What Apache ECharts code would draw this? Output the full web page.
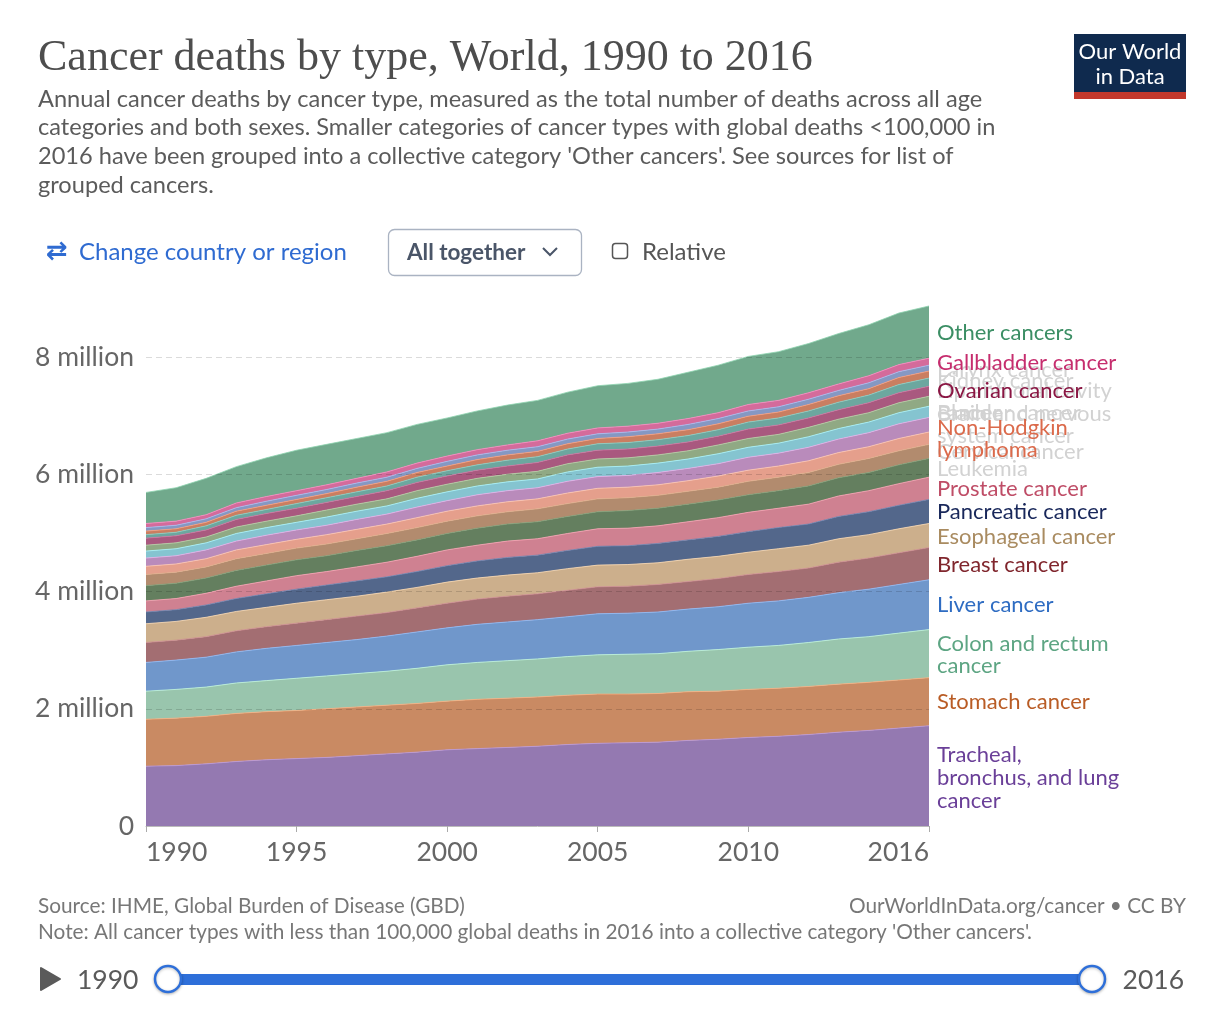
<!DOCTYPE html>
<html><head><meta charset="utf-8">
<script src="https://cdn.jsdelivr.net/npm/echarts@6/dist/echarts.min.js"></script>
<style>html,body{margin:0;padding:0;background:#fff}#c{width:1222px;height:1018px}</style>
</head><body><div id="c"></div>
<script>
// ---------- DATA (deaths, millions) ----------
const years = ['1990','1991','1992','1993','1994','1995','1996','1997','1998','1999','2000','2001','2002','2003','2004','2005','2006','2007','2008','2009','2010','2011','2012','2013','2014','2015','2016'];
const lung      = [1.02,1.03,1.06,1.10,1.13,1.15,1.17,1.20,1.23,1.26,1.30,1.32,1.34,1.36,1.39,1.41,1.42,1.43,1.46,1.48,1.51,1.53,1.56,1.60,1.63,1.67,1.71];
const stomach   = [0.80,0.81,0.81,0.82,0.82,0.82,0.83,0.83,0.83,0.83,0.83,0.84,0.84,0.84,0.84,0.84,0.83,0.83,0.83,0.82,0.82,0.82,0.82,0.82,0.82,0.82,0.82];
const colon     = [0.48,0.49,0.50,0.52,0.53,0.55,0.56,0.57,0.58,0.60,0.62,0.63,0.64,0.65,0.66,0.67,0.68,0.68,0.69,0.71,0.72,0.73,0.75,0.77,0.78,0.80,0.82];
const liver     = [0.49,0.50,0.51,0.53,0.55,0.56,0.57,0.58,0.60,0.62,0.63,0.65,0.66,0.67,0.68,0.70,0.70,0.71,0.72,0.73,0.75,0.76,0.77,0.79,0.81,0.83,0.85];
const breast    = [0.34,0.34,0.35,0.36,0.37,0.38,0.39,0.40,0.40,0.41,0.42,0.43,0.44,0.44,0.45,0.46,0.46,0.47,0.47,0.48,0.49,0.50,0.50,0.52,0.53,0.54,0.55];
const esophageal= [0.32,0.32,0.33,0.33,0.33,0.34,0.34,0.34,0.35,0.35,0.36,0.36,0.36,0.36,0.37,0.37,0.37,0.37,0.38,0.38,0.38,0.39,0.39,0.40,0.40,0.41,0.41];
const pancreatic= [0.20,0.20,0.21,0.22,0.23,0.24,0.25,0.26,0.26,0.27,0.28,0.29,0.30,0.30,0.31,0.32,0.32,0.33,0.33,0.34,0.35,0.36,0.36,0.38,0.39,0.40,0.41];
const prostate  = [0.19,0.19,0.20,0.21,0.22,0.23,0.23,0.24,0.25,0.26,0.27,0.27,0.28,0.28,0.29,0.30,0.30,0.30,0.31,0.32,0.33,0.33,0.34,0.35,0.36,0.37,0.38];
const leukemia  = [0.26,0.26,0.26,0.27,0.27,0.27,0.27,0.28,0.28,0.28,0.28,0.29,0.29,0.29,0.29,0.29,0.30,0.30,0.30,0.30,0.30,0.30,0.31,0.31,0.31,0.32,0.32];
const cervical  = [0.19,0.19,0.19,0.20,0.20,0.20,0.20,0.20,0.21,0.21,0.21,0.21,0.21,0.22,0.22,0.22,0.22,0.22,0.22,0.22,0.23,0.23,0.23,0.23,0.24,0.24,0.24];
const nhl       = [0.14,0.14,0.14,0.15,0.15,0.15,0.16,0.16,0.16,0.17,0.17,0.17,0.17,0.17,0.18,0.18,0.18,0.18,0.18,0.19,0.19,0.19,0.20,0.20,0.20,0.21,0.21];
const brain     = [0.14,0.14,0.15,0.15,0.16,0.16,0.16,0.17,0.17,0.18,0.18,0.19,0.19,0.19,0.20,0.20,0.20,0.21,0.21,0.21,0.22,0.22,0.23,0.23,0.24,0.25,0.25];
const bladder   = [0.12,0.12,0.12,0.13,0.13,0.13,0.14,0.14,0.14,0.15,0.15,0.15,0.15,0.15,0.16,0.16,0.16,0.16,0.16,0.17,0.17,0.17,0.18,0.18,0.18,0.19,0.19];
const lipOral   = [0.10,0.10,0.10,0.11,0.11,0.11,0.12,0.12,0.12,0.13,0.13,0.13,0.13,0.13,0.14,0.14,0.14,0.14,0.14,0.15,0.15,0.15,0.16,0.16,0.16,0.17,0.17];
const ovarian   = [0.12,0.12,0.12,0.13,0.13,0.13,0.13,0.13,0.14,0.14,0.14,0.14,0.14,0.15,0.15,0.15,0.15,0.15,0.15,0.15,0.16,0.16,0.16,0.16,0.17,0.17,0.17];
const kidney    = [0.06,0.06,0.07,0.07,0.07,0.08,0.08,0.08,0.08,0.09,0.09,0.09,0.10,0.10,0.10,0.11,0.11,0.11,0.11,0.11,0.12,0.12,0.12,0.13,0.13,0.14,0.14];
const myeloma   = [0.06,0.06,0.06,0.07,0.07,0.07,0.07,0.08,0.08,0.08,0.08,0.09,0.09,0.09,0.09,0.09,0.10,0.10,0.10,0.10,0.10,0.10,0.11,0.11,0.11,0.12,0.12];
const larynx    = [0.06,0.06,0.06,0.06,0.07,0.07,0.07,0.07,0.07,0.07,0.08,0.08,0.08,0.08,0.08,0.08,0.08,0.08,0.09,0.09,0.09,0.09,0.09,0.09,0.10,0.10,0.10];
const gallbladder=[0.07,0.07,0.07,0.08,0.08,0.08,0.08,0.08,0.09,0.09,0.09,0.09,0.09,0.10,0.10,0.10,0.10,0.10,0.10,0.10,0.11,0.11,0.11,0.11,0.12,0.12,0.12];
const other     = [0.53,0.57,0.62,0.62,0.66,0.69,0.69,0.68,0.67,0.66,0.65,0.66,0.68,0.69,0.70,0.72,0.73,0.75,0.79,0.81,0.82,0.83,0.84,0.86,0.87,0.88,0.89];
const yTicks = [0, 2, 4, 6, 8];
const xTickYears = ['1990','1995','2000','2005','2010','2016'];

// series list, bottom to top
const seriesDefs = [
  ['Tracheal, bronchus, and lung cancer', lung, '#9479B1'],
  ['Stomach cancer', stomach, '#C98A63'],
  ['Colon and rectum cancer', colon, '#99C5AD'],
  ['Liver cancer', liver, '#7097CB'],
  ['Breast cancer', breast, '#A36E72'],
  ['Esophageal cancer', esophageal, '#CCAF8C'],
  ['Pancreatic cancer', pancreatic, '#53678B'],
  ['Prostate cancer', prostate, '#CF8191'],
  ['Leukemia', leukemia, '#647F5F'],
  ['Cervical cancer', cervical, '#B28B6E'],
  ['Non-Hodgkin lymphoma', nhl, '#E59F8C'],
  ['Brain and nervous system cancer', brain, '#B98BBB'],
  ['Bladder cancer', bladder, '#85C4D0'],
  ['Lip and oral cavity cancer', lipOral, '#90A984'],
  ['Ovarian cancer', ovarian, '#A9597F'],
  ['Kidney cancer', kidney, '#6CA79F'],
  ['Multiple myeloma', myeloma, '#CA7E61'],
  ['Larynx cancer', larynx, '#8598C3'],
  ['Gallbladder cancer', gallbladder, '#D46B9B'],
  ['Other cancers', other, '#71A98C']
];

const chart = echarts.init(document.getElementById('c'), null, {renderer: 'canvas'});
const FONT = 'Lato, "Noto Sans", sans-serif';

const series = seriesDefs.map(([name, data, color]) => ({
  name, type: 'line', stack: 'total', data,
  symbol: 'none', smooth: false, z: 2,
  lineStyle: {width: 0.8, color: echarts.color.lift(color, -0.25)},
  areaStyle: {color, opacity: 1},
  itemStyle: {color},
  emphasis: {disabled: true}
}));

// right-hand labels: [text, y-centre, colour]
const greyLab = '#d2d2d2';
const rightLabels = [
  ['Larynx cancer', 370, greyLab],
  ['Kidney cancer', 381, greyLab],
  ['Lip and oral cavity\ncancer', 402, greyLab],
  ['Bladder cancer', 413, greyLab],
  ['Brain and nervous\nsystem cancer', 425, greyLab],
  ['Cervical cancer', 452, greyLab],
  ['Leukemia', 469, greyLab],
  ['Other cancers', 333, '#3B8E64'],
  ['Gallbladder cancer', 363, '#C62D6E'],
  ['Ovarian cancer', 391, '#8A1643'],
  ['Non-Hodgkin\nlymphoma', 439, '#DB6A4B'],
  ['Prostate cancer', 489, '#BF4D67'],
  ['Pancreatic cancer', 512, '#18275A'],
  ['Esophageal cancer', 537, '#A98B60'],
  ['Breast cancer', 565, '#80262D'],
  ['Liver cancer', 605, '#2E6CC2'],
  ['Colon and rectum\ncancer', 655, '#5DA583'],
  ['Stomach cancer', 702, '#B95C25'],
  ['Tracheal,\nbronchus, and lung\ncancer', 778, '#6A3F98']
];

const graphics = [];
rightLabels.forEach(([t, y, c], i) => {
  graphics.push({type: 'text', z: i < 7 ? 10 : 20, position: [937, y],
    style: {text: t, x: 0, y: 0, fill: c, font: '22px ' + FONT, lineHeight: 22.7, verticalAlign: 'middle'}});
});

// header
graphics.push(
  {type: 'text', position: [38, 58], style: {text: 'Cancer deaths by type, World, 1990 to 2016', fill: '#4d4d4d',
    font: '44px "Liberation Serif", "DejaVu Serif", serif', verticalAlign: 'middle'}},
  {type: 'text', position: [38, 142], style: {text:
    "Annual cancer deaths by cancer type, measured as the total number of deaths across all age\ncategories and both sexes. Smaller categories of cancer types with global deaths <100,000 in\n2016 have been grouped into a collective category 'Other cancers'. See sources for list of\ngrouped cancers.",
    fill: '#5b5b5b', font: '23.6px ' + FONT, lineHeight: 28.6, verticalAlign: 'middle'}},
  // logo
  {type: 'rect', shape: {x: 1074, y: 34, width: 112, height: 65}, style: {fill: '#0F2A4E'}},
  {type: 'rect', shape: {x: 1074, y: 92, width: 112, height: 7}, style: {fill: '#C2382C'}},
  {type: 'text', position: [1130, 52], style: {text: 'Our World', fill: '#fff', font: '22px ' + FONT, align: 'center', verticalAlign: 'middle'}},
  {type: 'text', position: [1130, 77], style: {text: 'in Data', fill: '#fff', font: '22px ' + FONT, align: 'center', verticalAlign: 'middle'}},
  // controls
  {type: 'text', position: [46, 252], style: {text: '⇄', fill: '#2F6BD1', font: 'bold 26px "DejaVu Sans", sans-serif', verticalAlign: 'middle'}},
  {type: 'text', position: [79, 252], style: {text: 'Change country or region', fill: '#2F6BD1', font: '24px ' + FONT, verticalAlign: 'middle'}},
  {type: 'rect', shape: {x: 388.5, y: 229.5, width: 193, height: 46, r: 6}, style: {fill: '#fff', stroke: '#AAB3C2', lineWidth: 1.3}},
  {type: 'text', position: [407, 253], style: {text: 'All together', fill: '#4A5568', font: 'bold 22.5px ' + FONT, verticalAlign: 'middle'}},
  {type: 'polyline', shape: {points: [[543, 248], [550, 255], [557, 248]]}, style: {stroke: '#4A5568', lineWidth: 2, fill: null}},
  {type: 'rect', shape: {x: 612.5, y: 243.5, width: 15, height: 15, r: 3}, style: {fill: '#fff', stroke: '#555', lineWidth: 1.5}},
  {type: 'text', position: [642, 252], style: {text: 'Relative', fill: '#555', font: '24px ' + FONT, verticalAlign: 'middle'}},
  // footer
  {type: 'text', position: [38, 906], style: {text: 'Source: IHME, Global Burden of Disease (GBD)', fill: '#777', font: '20.8px ' + FONT, verticalAlign: 'middle'}},
  {type: 'text', position: [1186, 906], style: {text: 'OurWorldInData.org/cancer • CC BY', fill: '#777', font: '20.8px ' + FONT, align: 'right', verticalAlign: 'middle'}},
  {type: 'text', position: [38, 932], style: {text: "Note: All cancer types with less than 100,000 global deaths in 2016 into a collective category 'Other cancers'.", fill: '#777', font: '20.8px ' + FONT, verticalAlign: 'middle'}},
  // timeline
  {type: 'polygon', shape: {points: [[41, 968], [41, 990], [60, 979]]}, style: {fill: '#5a5a5a', stroke: '#5a5a5a', lineWidth: 2, lineJoin: 'round'}},
  {type: 'text', position: [77, 980], style: {text: '1990', fill: '#5a5a5a', font: '26.5px ' + FONT, verticalAlign: 'middle'}},
  {type: 'rect', shape: {x: 168, y: 974, width: 924, height: 11, r: 0}, style: {fill: '#2E6FD9'}},
  {type: 'circle', shape: {cx: 168, cy: 979, r: 13}, style: {fill: '#fff', stroke: '#2E6FD9', lineWidth: 2.5, shadowBlur: 3, shadowColor: 'rgba(0,0,0,0.25)', shadowOffsetY: 1}},
  {type: 'circle', shape: {cx: 1092, cy: 979, r: 13}, style: {fill: '#fff', stroke: '#2E6FD9', lineWidth: 2.5, shadowBlur: 3, shadowColor: 'rgba(0,0,0,0.25)', shadowOffsetY: 1}},
  {type: 'text', position: [1184, 980], style: {text: '2016', fill: '#5a5a5a', font: '26.5px ' + FONT, align: 'right', verticalAlign: 'middle'}}
);

const gridTop = 826 - 9 * (826 - 357) / 8;
chart.setOption({
  animation: false,
  backgroundColor: '#fff',
  grid: {left: 146, right: 293, top: gridTop, bottom: 192, containLabel: false},
  xAxis: {
    type: 'category', data: years, boundaryGap: false,
    axisLine: {show: true, lineStyle: {color: '#bbb', width: 1}},
    axisTick: {show: true, length: 6, lineStyle: {color: '#aaa'},
      interval: (i, v) => xTickYears.includes(v)},
    axisLabel: {interval: (i, v) => xTickYears.includes(v), color: '#666', fontSize: 26.5, fontFamily: FONT, margin: 13,
      alignMinLabel: 'left', alignMaxLabel: 'right'},
    splitLine: {show: false}
  },
  yAxis: {
    type: 'value', min: 0, max: 9, interval: 2, z: 5,
    axisLine: {show: false}, axisTick: {show: false},
    axisLabel: {color: '#666', fontSize: 26.5, fontFamily: FONT, margin: 12, showMaxLabel: false,
      formatter: v => yTicks.includes(v) ? (v === 0 ? '0' : v + ' million') : ''},
    splitLine: {show: true, lineStyle: {type: [6, 4], width: 1,
      color: ['rgba(0,0,0,0)', 'rgba(0,0,0,0.14)', 'rgba(0,0,0,0.14)', 'rgba(0,0,0,0.14)', 'rgba(0,0,0,0.14)', 'rgba(0,0,0,0)']}}
  },
  series,
  graphic: graphics
});
</script></body></html>
